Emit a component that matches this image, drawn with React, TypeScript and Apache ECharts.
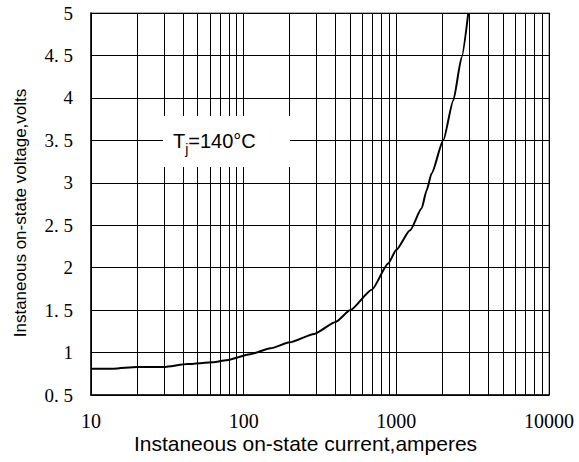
import React, { useEffect, useRef } from "react";
import * as echarts from "echarts";

const currentA = [10, 14, 20, 30, 43, 63, 77, 110, 150, 200, 290, 400, 500, 690, 885, 1000, 1230, 1466, 1578, 1702, 2030, 2360, 2680, 2960];
const voltageV = [0.81, 0.81, 0.83, 0.83, 0.865, 0.885, 0.91, 0.98, 1.05, 1.12, 1.22, 1.36, 1.5, 1.74, 2.05, 2.21, 2.44, 2.7, 2.91, 3.11, 3.5, 3.97, 4.48, 5.0];
const minorGridX = [20, 30, 40, 50, 60, 70, 80, 90, 200, 300, 400, 500, 600, 700, 800, 900, 2000, 3000, 4000, 5000, 6000, 7000, 8000, 9000];
const xTickLabels = ["10", "100", "1000", "10000"];
const xTickValues = [10, 100, 1000, 10000];
const yTickLabels = ["0. 5", "1", "1. 5", "2", "2. 5", "3", "3. 5", "4", "4. 5", "5"];
const yTickValues = [0.5, 1, 1.5, 2, 2.5, 3, 3.5, 4, 4.5, 5];

const SERIF = "'Liberation Serif', 'DejaVu Serif', serif";
const SANS = "'Liberation Sans', Arial, sans-serif";

export default function App() {
  const ref = useRef<HTMLDivElement>(null);
  useEffect(() => {
    if (!ref.current) return;
    const chart = echarts.init(ref.current, null, { renderer: "svg" });
    chart.setOption({
      animation: false,
      backgroundColor: "#fff",
      grid: {
        left: 91,
        right: 30,
        top: 13,
        bottom: 67,
        containLabel: false,
        outerBoundsMode: "none",
        show: true,
        borderColor: "#999",
        borderWidth: 1.5,
        backgroundColor: "transparent",
      },
      xAxis: {
        type: "log",
        logBase: 10,
        min: 10,
        max: 10000,
        name: "Instaneous on-state current,amperes",
        nameLocation: "middle",
        nameGap: 37,
        nameMoveOverlap: false,
        nameTextStyle: {
          fontFamily: SANS,
          fontSize: 21,
          lineHeight: 22,
          color: "#000",
          padding: [0, 29, 0, 0],
        },
        axisLine: { show: true, lineStyle: { color: "#000", width: 1.5 } },
        axisTick: { show: false },
        axisLabel: {
          fontFamily: SERIF,
          fontSize: 20,
          lineHeight: 18,
          color: "#000",
          margin: 17,
          formatter: (v: number) => {
            const i = xTickValues.findIndex((t) => Math.abs(t - v) / t < 1e-6);
            return i >= 0 ? xTickLabels[i] : String(v);
          },
        },
        splitLine: { show: true, lineStyle: { color: "#000", width: 1 } },
      },
      yAxis: {
        type: "value",
        min: 0.5,
        max: 5,
        interval: 0.5,
        name: "Instaneous on-state voltage,volts",
        nameLocation: "middle",
        nameGap: 62,
        nameMoveOverlap: false,
        nameTextStyle: {
          fontFamily: SANS,
          fontSize: 17,
          color: "#000",
          padding: [0, 18, 0, 0],
        },
        axisLine: { show: true, lineStyle: { color: "#000", width: 1.5 } },
        axisTick: { show: false },
        axisLabel: {
          fontFamily: SERIF,
          fontSize: 19,
          color: "#000",
          margin: 18,
          formatter: (v: number) => {
            const i = yTickValues.findIndex((t) => Math.abs(t - v) < 1e-6);
            return i >= 0 ? yTickLabels[i] : String(v);
          },
        },
        splitLine: { show: true, lineStyle: { color: "#000", width: 1 } },
      },
      series: [
        {
          type: "line",
          data: currentA.map((c, i) => [c, voltageV[i]]),
          showSymbol: false,
          symbol: "none",
          smooth: 0.2,
          smoothMonotone: "x",
          lineStyle: { color: "#000", width: 2 },
          z: 5,
          markLine: {
            silent: true,
            symbol: "none",
            label: { show: false },
            lineStyle: { color: "#000", width: 1, type: "solid" },
            data: minorGridX.map((x) => ({ xAxis: x })),
            z: 1,
          },
        },
      ],
      graphic: [
        {
          type: "rect",
          z: 100,
          shape: { x: 163, y: 116, width: 127, height: 51 },
          style: { fill: "#fff" },
        },
        {
          type: "text",
          z: 101,
          x: 173,
          y: 141,
          style: {
            text: "{a|T}{b|j}{a|=140°C}",
            verticalAlign: "middle",
            rich: {
              a: { fontFamily: SANS, fontSize: 20, lineHeight: 20, fill: "#000" },
              b: { fontFamily: SANS, fontSize: 14, lineHeight: 30, verticalAlign: "bottom", fill: "#000" },
            },
          },
        },
      ],
    });
    return () => chart.dispose();
  }, []);
  return <div ref={ref} style={{ width: 579, height: 462, position: "absolute", left: 0, top: 0 }} />;
}
